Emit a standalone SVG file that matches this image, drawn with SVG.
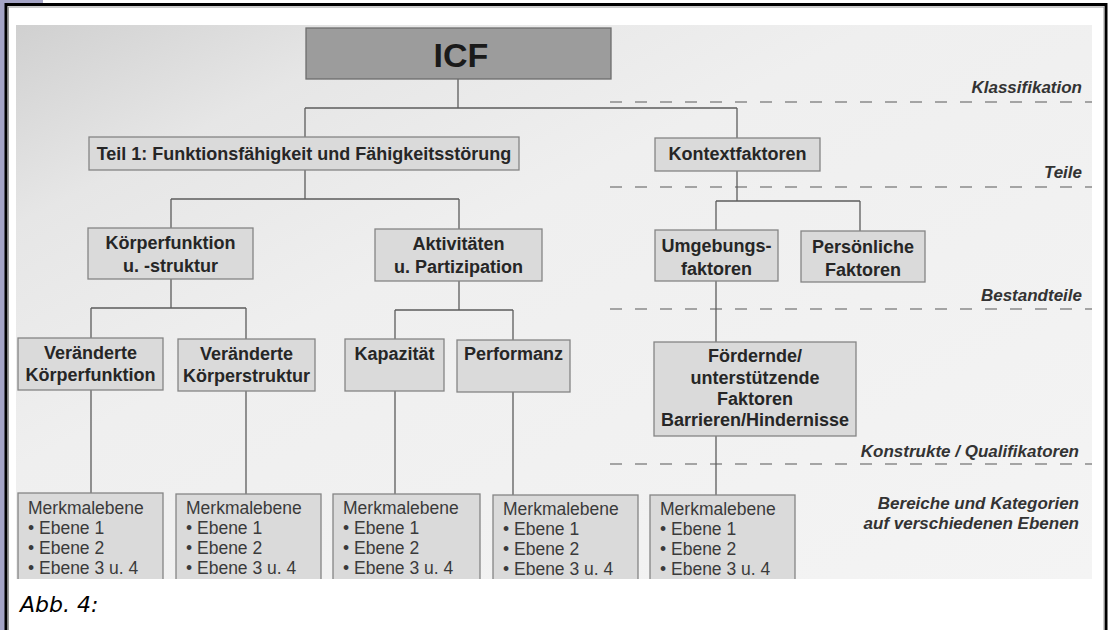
<svg xmlns="http://www.w3.org/2000/svg" width="1109" height="630" viewBox="0 0 1109 630">
<defs>
<linearGradient id="scan" x1="0" y1="0" x2="1" y2="1">
<stop offset="0" stop-color="#d0d0d0"/>
<stop offset="0.18" stop-color="#e6e6e6"/>
<stop offset="0.4" stop-color="#efefef"/>
<stop offset="1" stop-color="#f4f4f4"/>
</linearGradient>
<clipPath id="scanclip"><rect x="16" y="25" width="1076" height="554"/></clipPath>
</defs>
<style>
.box{fill:#dadada;stroke:#858585;stroke-width:1.3}
.icf{fill:#9c9c9c;stroke:#6e6e6e;stroke-width:1.3}
.lbl{font-family:"Liberation Sans",Arial,sans-serif;font-weight:bold;font-size:18px;fill:#262626;text-anchor:middle}
.reg{font-family:"Liberation Sans",Arial,sans-serif;font-size:17.5px;fill:#3a3a3a}
.lvl{font-family:"Liberation Sans",Arial,sans-serif;font-weight:bold;font-style:italic;font-size:17px;fill:#333;text-anchor:end}
.con{stroke:#5c5c5c;stroke-width:1.3;fill:none}
.dash{stroke:#8a8a8a;stroke-width:1.6;stroke-dasharray:12 13;fill:none}
</style>
<rect x="0" y="0" width="1109" height="630" fill="#ffffff"/>
<rect x="0" y="0" width="43" height="4" fill="#a4a4c6"/>
<rect x="0" y="0" width="5" height="630" fill="#a4a4c6"/>
<rect x="6" y="4.5" width="1100" height="640" fill="none" stroke="#000" stroke-width="3"/>
<rect x="8.5" y="7" width="1095.5" height="640" fill="none" stroke="#9a9a9a" stroke-width="1"/>
<rect x="16" y="25" width="1076" height="554" fill="url(#scan)"/>

<g id="levels">
<line class="dash" x1="610" y1="102" x2="1092" y2="102"/>
<line class="dash" x1="610" y1="187" x2="1092" y2="187"/>
<line class="dash" x1="610" y1="309" x2="1092" y2="309"/>
<line class="dash" x1="610" y1="464" x2="1092" y2="464"/>
<text class="lvl" x="1082" y="93">Klassifikation</text>
<text class="lvl" x="1082" y="178">Teile</text>
<text class="lvl" x="1082" y="301">Bestandteile</text>
<text class="lvl" x="1079" y="457">Konstrukte / Qualifikatoren</text>
<text class="lvl" x="1079" y="509">Bereiche und Kategorien</text>
<text class="lvl" x="1079" y="529">auf verschiedenen Ebenen</text>
</g>

<g id="connectors">
<path class="con" d="M458,79V108M305,108H737M305,108V137M737,108V138"/>
<path class="con" d="M305,170V199M171,199H459M171,199V228M459,199V229"/>
<path class="con" d="M171,279V308M91,308H246M91,308V338M246,308V339"/>
<path class="con" d="M459,281V310M395,310H513M395,310V339M513,310V340"/>
<path class="con" d="M91,390V493M246,391V494M395,391V494M513,392V495"/>
<path class="con" d="M737,171V201M716,201H860M716,201V230M860,201V231"/>
<path class="con" d="M716,281V342M716,436V495"/>
</g>

<g id="icf">
<rect class="icf" x="306" y="28" width="305" height="51"/>
<text class="lbl" x="461" y="67" style="font-size:34px;fill:#1a1a1a">ICF</text>
</g>
<g id="teil1">
<rect class="box" x="89" y="137" width="430" height="33"/>
<text class="lbl" x="304" y="160">Teil 1: Funktionsfähigkeit und Fähigkeitsstörung</text>
</g>
<g id="kontext">
<rect class="box" x="655" y="138" width="165" height="33"/>
<text class="lbl" x="737.5" y="160">Kontextfaktoren</text>
</g>
<g id="koerper">
<rect class="box" x="88" y="228" width="165" height="51"/>
<text class="lbl" x="170.5" y="249">Körperfunktion</text>
<text class="lbl" x="170.5" y="272">u. -struktur</text>
</g>
<g id="aktiv">
<rect class="box" x="375" y="229" width="167" height="52"/>
<text class="lbl" x="458.5" y="250">Aktivitäten</text>
<text class="lbl" x="458.5" y="273">u. Partizipation</text>
</g>
<g id="umgeb">
<rect class="box" x="655" y="230" width="123" height="51"/>
<text class="lbl" x="716.5" y="252">Umgebungs-</text>
<text class="lbl" x="716.5" y="275">faktoren</text>
</g>
<g id="persoen">
<rect class="box" x="801" y="231" width="124" height="51"/>
<text class="lbl" x="863" y="253">Persönliche</text>
<text class="lbl" x="863" y="276">Faktoren</text>
</g>
<g id="vkf">
<rect class="box" x="18" y="338" width="145" height="52"/>
<text class="lbl" x="90.5" y="359">Veränderte</text>
<text class="lbl" x="90.5" y="381">Körperfunktion</text>
</g>
<g id="vks">
<rect class="box" x="178" y="339" width="137" height="52"/>
<text class="lbl" x="246.5" y="360">Veränderte</text>
<text class="lbl" x="246.5" y="382">Körperstruktur</text>
</g>
<g id="kap">
<rect class="box" x="345" y="339" width="99" height="52"/>
<text class="lbl" x="394.5" y="360">Kapazität</text>
</g>
<g id="perf">
<rect class="box" x="457" y="340" width="113" height="52"/>
<text class="lbl" x="513.5" y="360">Performanz</text>
</g>
<g id="foerd">
<rect class="box" x="654" y="342" width="202" height="94"/>
<text class="lbl" x="755" y="362">Fördernde/</text>
<text class="lbl" x="755" y="384">unterstützende</text>
<text class="lbl" x="755" y="405">Faktoren</text>
<text class="lbl" x="755" y="426">Barrieren/Hindernisse</text>
</g>

<g clip-path="url(#scanclip)">
<g id="m1">
<rect class="box" x="18" y="493" width="145" height="110"/>
<text class="reg" x="28" y="514">Merkmalebene</text>
<text class="reg" x="28" y="534">• Ebene 1</text>
<text class="reg" x="28" y="554">• Ebene 2</text>
<text class="reg" x="28" y="574">• Ebene 3 u. 4</text>
</g>
<g id="m2">
<rect class="box" x="176" y="494" width="145" height="110"/>
<text class="reg" x="186" y="514">Merkmalebene</text>
<text class="reg" x="186" y="534">• Ebene 1</text>
<text class="reg" x="186" y="554">• Ebene 2</text>
<text class="reg" x="186" y="574">• Ebene 3 u. 4</text>
</g>
<g id="m3">
<rect class="box" x="333" y="494" width="147" height="110"/>
<text class="reg" x="343" y="514">Merkmalebene</text>
<text class="reg" x="343" y="534">• Ebene 1</text>
<text class="reg" x="343" y="554">• Ebene 2</text>
<text class="reg" x="343" y="574">• Ebene 3 u. 4</text>
</g>
<g id="m4">
<rect class="box" x="493" y="495" width="145" height="110"/>
<text class="reg" x="503" y="515">Merkmalebene</text>
<text class="reg" x="503" y="535">• Ebene 1</text>
<text class="reg" x="503" y="555">• Ebene 2</text>
<text class="reg" x="503" y="575">• Ebene 3 u. 4</text>
</g>
<g id="m5">
<rect class="box" x="650" y="495" width="145" height="110"/>
<text class="reg" x="660" y="515">Merkmalebene</text>
<text class="reg" x="660" y="535">• Ebene 1</text>
<text class="reg" x="660" y="555">• Ebene 2</text>
<text class="reg" x="660" y="575">• Ebene 3 u. 4</text>
</g>
</g>

<text x="20" y="612" style="font-family:'DejaVu Sans',sans-serif;font-style:italic;font-size:22px;fill:#000">Abb. 4:</text>
</svg>
